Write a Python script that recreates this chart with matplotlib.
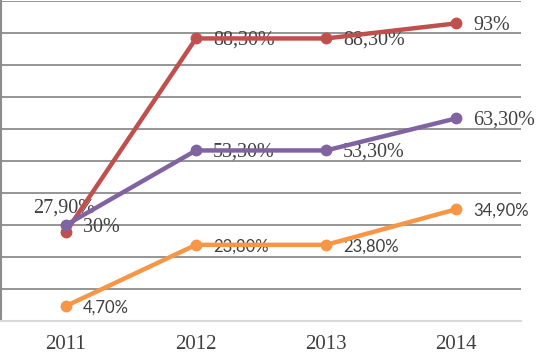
import matplotlib
matplotlib.use("Agg")
import matplotlib.pyplot as plt

years = ["2011", "2012", "2013", "2014"]
red_vals = [27.9, 88.3, 88.3, 93.0]
purple_vals = [30.0, 53.3, 53.3, 63.3]
orange_vals = [4.7, 23.8, 23.8, 34.9]
red_labels = ["27,90%", "88,30%", "88,30%", "93%"]
purple_labels = ["30%", "53,30%", "53,30%", "63,30%"]
orange_labels = ["4,70%", "23,80%", "23,80%", "34,90%"]

RED = "#C0504D"
PURPLE = "#8064A2"
ORANGE = "#F79646"
TXT = "#404040"

W, H = 537, 353
fig = plt.figure(figsize=(W / 100, H / 100), dpi=100)
ax = fig.add_axes([1 / W, (H - 321) / H, 520 / W, 320 / H])

x = list(range(len(years)))
for vals, col, z in [(red_vals, RED, 3), (purple_vals, PURPLE, 4), (orange_vals, ORANGE, 3)]:
    ax.plot(x, vals, color=col, lw=3.2, marker="o", ms=7.5, zorder=z,
            solid_joinstyle="round", clip_on=False)

ax.set_xlim(-0.5, 3.5)
ax.set_ylim(0, 100)
ax.set_yticks(range(0, 101, 10))
ax.set_yticklabels([])
ax.tick_params(axis="y", length=0)
ax.grid(axis="y", color="#8c8c8c", lw=1.3, zorder=0)
ax.set_axisbelow(True)
ax.set_xticks(x)
ax.set_xticklabels(years, family="Liberation Serif", fontsize=15, color=TXT)
ax.tick_params(axis="x", length=0, pad=10)
for s in ["top", "right"]:
    ax.spines[s].set_visible(False)
ax.spines["left"].set_color("#8c8c8c")
ax.spines["left"].set_linewidth(1.5)
ax.spines["bottom"].set_color("#d9d9d9")
ax.spines["bottom"].set_linewidth(1.5)

serif = dict(family="Liberation Serif", fontsize=14.5, color=TXT)
sans = dict(family="Lato", fontsize=12, color=TXT)

def lab(xi, yi, s, dx, dy, props, ha="left"):
    ax.annotate(s, (xi, yi), xytext=(dx, dy), textcoords="offset pixels",
                ha=ha, va="center", zorder=2, **props)

for i in range(4):
    if i == 0:
        lab(i, red_vals[i], red_labels[i], -2, 24, serif, ha="center")
    else:
        lab(i, red_vals[i], red_labels[i], 17, -2, serif)
    lab(i, purple_vals[i], purple_labels[i], 17, -2, serif)
    lab(i, orange_vals[i], orange_labels[i], 17, -1.5, sans)

fig.savefig("out.png", dpi=100)
